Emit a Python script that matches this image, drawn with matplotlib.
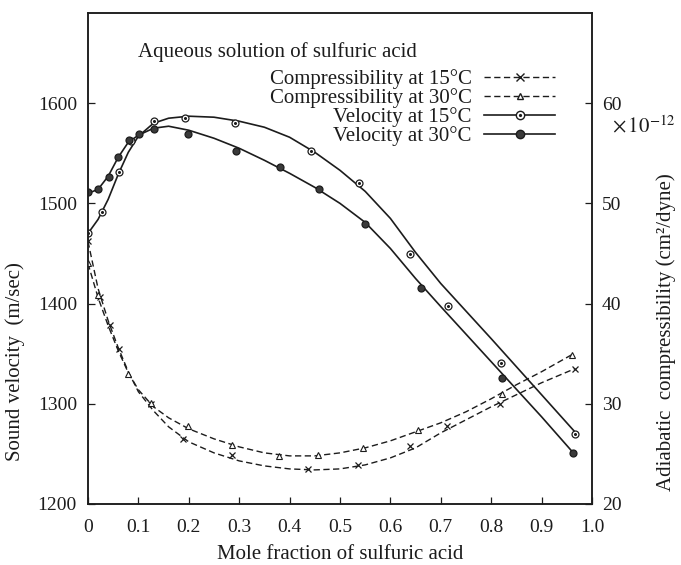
import matplotlib
import matplotlib.pyplot as plt
from matplotlib.lines import Line2D

matplotlib.rcParams["font.family"] = "Liberation Serif"
matplotlib.rcParams["mathtext.fontset"] = "stix"

# measured points (mole fraction of sulfuric acid)
vel15_x = [0, 0.028, 0.062, 0.085, 0.131, 0.192, 0.292, 0.442, 0.538, 0.639, 0.714, 0.819, 0.966]
vel15_y = [1470, 1491, 1531, 1562, 1582, 1585, 1580, 1552, 1520, 1449, 1398, 1341, 1270]
vel30_x = [0, 0.02, 0.042, 0.06, 0.081, 0.102, 0.131, 0.199, 0.293, 0.381, 0.459, 0.55, 0.661, 0.822, 0.963]
vel30_y = [1511, 1514, 1526, 1546, 1563, 1569, 1574, 1569, 1552, 1536, 1514, 1479, 1416, 1326, 1251]
comp15_x = [0, 0.024, 0.044, 0.062, 0.126, 0.189, 0.286, 0.437, 0.536, 0.639, 0.712, 0.817, 0.966]
comp15_y = [46.2, 40.7, 37.9, 35.5, 30.0, 26.5, 24.9, 23.5, 23.9, 25.8, 27.8, 30.0, 33.5]
comp30_x = [0, 0.02, 0.08, 0.126, 0.198, 0.286, 0.378, 0.457, 0.546, 0.655, 0.821, 0.96]
comp30_y = [44.0, 40.85, 33.0, 30.1, 27.8, 25.85, 24.8, 24.9, 25.55, 27.4, 31.0, 34.9]

# smooth curves as drawn in the figure
vel15_cx = [0, 0.02, 0.04, 0.06, 0.08, 0.10, 0.13, 0.16, 0.20, 0.25, 0.30, 0.35, 0.40, 0.45,
            0.50, 0.55, 0.60, 0.65, 0.70, 0.80, 0.90, 0.966]
vel15_cy = [1470, 1484, 1504, 1529, 1551, 1567, 1580, 1585, 1587, 1586, 1582, 1576, 1566, 1551,
            1533, 1512, 1485, 1451, 1420, 1365, 1309, 1272]
vel30_cx = [0, 0.02, 0.04, 0.06, 0.08, 0.10, 0.13, 0.16, 0.20, 0.25, 0.30, 0.35, 0.40, 0.45,
            0.50, 0.55, 0.60, 0.65, 0.70, 0.80, 0.90, 0.963]
vel30_cy = [1510, 1514, 1527, 1546, 1561, 1568, 1575, 1577, 1573, 1565, 1555, 1543, 1530, 1516,
            1500, 1481, 1455, 1425, 1397, 1342, 1287, 1251]
comp15_cx = [0, 0.02, 0.04, 0.06, 0.08, 0.10, 0.13, 0.16, 0.20, 0.25, 0.30, 0.35, 0.40, 0.45,
             0.50, 0.55, 0.60, 0.65, 0.70, 0.75, 0.80, 0.85, 0.90, 0.966]
comp15_cy = [46.2, 41.5, 38.3, 35.6, 33.2, 31.2, 29.3, 27.7, 26.2, 25.1, 24.3, 23.8, 23.5, 23.4,
             23.5, 23.9, 24.6, 25.6, 27.1, 28.4, 29.7, 30.9, 32.1, 33.5]
comp30_cx = [0, 0.02, 0.04, 0.06, 0.08, 0.10, 0.13, 0.16, 0.20, 0.25, 0.30, 0.35, 0.40, 0.45,
             0.50, 0.55, 0.60, 0.65, 0.70, 0.75, 0.80, 0.85, 0.90, 0.96]
comp30_cy = [44.0, 40.6, 37.8, 35.3, 33.1, 31.4, 29.7, 28.6, 27.5, 26.5, 25.7, 25.1, 24.8, 24.8,
             25.1, 25.6, 26.3, 27.2, 28.1, 29.2, 30.5, 31.9, 33.2, 34.9]

labels = ["Compressibility at 15°C", "Compressibility at 30°C",
          "Velocity at 15°C", "Velocity at 30°C"]

ink = "#1c1c1c"

fig = plt.figure(figsize=(6.81, 5.65), dpi=100)
ax = fig.add_axes([0.1292, 0.108, 0.7401, 0.869])
ax2 = ax.twinx()

# velocity (left axis)
ax.plot(vel15_cx, vel15_cy, color=ink, lw=1.2)
ax.plot(vel30_cx, vel30_cy, color=ink, lw=1.2)
ax.plot(vel15_x, vel15_y, ls="none", marker="o", ms=5, mfc="white", mec=ink, mew=0.9)
ax.plot(vel15_x, vel15_y, ls="none", marker="o", ms=1.2, mfc=ink, mec=ink)
ax.plot(vel30_x, vel30_y, ls="none", marker="o", ms=5, mfc="#3a3a3a", mec=ink, mew=0.9)

# compressibility (right axis)
dash = (0, (4.5, 2.5))
ax2.plot(comp15_cx, comp15_cy, color=ink, lw=1.0, ls=dash)
ax2.plot(comp30_cx, comp30_cy, color=ink, lw=1.0, ls=dash)
ax2.plot(comp15_x, comp15_y, ls="none", marker="x", ms=4, mec=ink, mew=0.9)
ax2.plot(comp30_x, comp30_y, ls="none", marker="^", ms=4, mfc="white", mec=ink, mew=0.8)

ax.set_xlim(0, 1.0)
ax.set_ylim(1200, 1690)
ax2.set_ylim(20, 69)
ax.set_xticks([0, 0.1, 0.2, 0.3, 0.4, 0.5, 0.6, 0.7, 0.8, 0.9, 1.0])
ax.set_xticklabels(["0", "0.1", "0.2", "0.3", "0.4", "0.5", "0.6", "0.7", "0.8", "0.9", "1.0"])
ax.set_yticks([1200, 1300, 1400, 1500, 1600])
ax2.set_yticks([20, 30, 40, 50, 60])

ax.tick_params(axis="x", direction="in", length=5, width=0.9, pad=11, labelsize=14, colors=ink)
ax.tick_params(axis="y", direction="in", length=5, width=0.9, pad=8, labelsize=14, colors=ink)
ax2.tick_params(axis="y", direction="in", length=5, width=0.9, pad=7, labelsize=14, colors=ink)
for a in (ax, ax2):
    for s in a.spines.values():
        s.set_linewidth(1.1)
        s.set_color(ink)

ax.set_xlabel("Mole fraction of sulfuric acid", fontsize=15, color=ink, labelpad=6)
ax.set_ylabel("Sound velocity  (m/sec)", fontsize=15, color=ink)
ax.yaxis.set_label_coords(-0.124, 0.29)
ax2.set_ylabel("Adiabatic  compressibility (cm²/dyne)", fontsize=15, color=ink, rotation=90)
ax2.yaxis.set_label_coords(1.128, 0.35)

ax.text(0.099, 0.92, "Aqueous solution of sulfuric acid", transform=ax.transAxes,
        fontsize=15, color=ink, va="center", ha="left")
ax.text(1.04, 0.768, r"$\times\,10^{-12}$", transform=ax.transAxes,
        fontsize=15, color=ink, va="center", ha="left")

h_c15 = Line2D([], [], color=ink, lw=1.0, ls=dash, marker="x", ms=6, mec=ink, mew=1.0)
h_c30 = Line2D([], [], color=ink, lw=1.0, ls=dash, marker="^", ms=5, mfc="white", mec=ink)
h_v15 = (Line2D([], [], color=ink, lw=1.2, marker="o", ms=6, mfc="white", mec=ink),
         Line2D([], [], ls="none", marker="o", ms=1.3, mfc=ink, mec=ink))
h_v30 = Line2D([], [], color=ink, lw=1.2, marker="o", ms=6, mfc="#3a3a3a", mec=ink)

leg = ax2.legend([h_c15, h_c30, h_v15, h_v30], labels, loc="upper right",
                 bbox_to_anchor=(0.927, 0.885), frameon=False, markerfirst=False,
                 numpoints=1, handlelength=3.4, handletextpad=0.6, labelspacing=-0.05,
                 borderpad=0, borderaxespad=0, fontsize=15)
for t in leg.get_texts():
    t.set_color(ink)

fig.savefig("out.png", dpi=100, facecolor="white")
